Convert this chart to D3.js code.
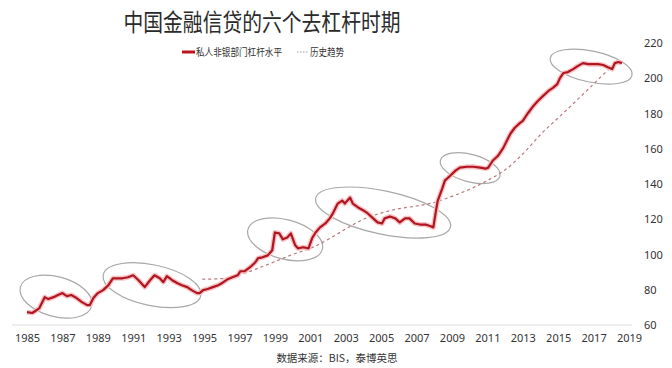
<!DOCTYPE html>
<html>
<head>
<meta charset="utf-8">
<title>中国金融信贷的六个去杠杆时期</title>
<script src="https://d3js.org/d3.v7.min.js"></script>
<style>
  body { margin: 0; background: #fff; }
  text { font-family: "Noto Sans", "Noto Sans CJK SC", sans-serif; fill: #333; }
</style>
</head>
<body>
<svg class="chart" width="672" height="368"></svg>
<script>
// 私人非银部门杠杆水平 (读图估计, 年份为小数)
const lineYears = [1985.0,1985.3,1985.55,1985.7,1986.0,1986.2,1986.5,1986.75,1987.0,1987.25,1987.5,1987.8,
  1988.1,1988.4,1988.55,1988.75,1989.0,1989.3,1989.6,1989.85,1990.1,1990.4,1990.7,1991.0,1991.3,1991.65,1991.95,
  1992.2,1992.5,1992.7,1992.9,1993.2,1993.5,1993.75,1994.05,1994.3,1994.6,1994.75,1994.95,1995.2,1995.5,1995.8,
  1996.05,1996.3,1996.6,1996.9,1997.05,1997.3,1997.6,1997.9,1998.05,1998.3,1998.6,1998.85,1999.0,1999.25,1999.45,
  1999.7,1999.9,2000.15,2000.3,2000.6,2000.9,2001.1,2001.3,2001.55,2001.85,2002.1,2002.3,2002.55,2002.8,2002.95,
  2003.25,2003.4,2003.7,2004.0,2004.25,2004.55,2004.8,2005.05,2005.2,2005.5,2005.8,2006.05,2006.35,2006.6,2006.9,
  2007.2,2007.5,2007.8,2007.95,2008.1,2008.2,2008.45,2008.6,2008.9,2009.2,2009.45,2009.85,2010.2,2010.6,2010.9,
  2011.05,2011.3,2011.6,2011.9,2012.1,2012.3,2012.55,2012.85,2013.0,2013.3,2013.6,2013.85,2014.15,2014.45,2014.7,
  2014.95,2015.1,2015.3,2015.55,2015.85,2016.1,2016.4,2016.7,2016.95,2017.25,2017.55,2017.8,2018.05,2018.2,2018.4,2018.6];
const lineValues = [67.3,66.8,68.5,69.6,75.8,74.7,75.8,77.0,78.1,76.4,77.0,75.3,
  73.0,71.3,71.3,75.3,78.1,79.8,82.6,86.5,86.5,86.5,87.1,88.2,85.4,81.5,85.4,
  88.2,86.5,84.3,87.7,85.4,83.7,82.6,81.5,79.8,78.1,78.1,79.8,80.4,81.5,82.6,
  84.0,85.8,87.1,88.2,90.5,90.5,92.8,95.6,97.9,98.4,99.5,102.4,112.5,112.0,108.6,
  109.7,112.0,105.2,103.5,104.1,103.5,109.2,112.5,115.4,117.6,120.5,123.8,128.9,130.6,128.9,
  132.3,128.9,126.7,125.0,123.3,120.5,118.2,117.6,120.5,121.6,120.5,118.2,120.5,120.5,117.6,
  117.0,117.0,116.0,115.4,125.0,130.6,137.4,141.9,144.7,147.6,149.3,149.8,149.8,149.3,148.7,
  149.3,153.2,156.0,160.5,164.5,168.5,171.9,174.7,175.8,180.3,184.3,187.1,190.0,192.8,194.5,
  196.7,200.1,203.0,203.5,205.2,206.9,208.6,208.0,208.0,208.0,207.5,206.3,205.2,208.6,209.2,208.6];

// 历史趋势
const trendYears = [1994.9,1996,1997,1998,1999,2000,2001,2002,2003,2004,2005,2006,2007,2008,
  2009,2010,2011,2012,2013,2014,2015,2016,2017,2018,2018.35];
const trendValues = [86,86.3,88.3,92,96,100,103.5,108.5,114.5,120,123.5,126,127.5,129.5,
  133,137,142,148,157,168,177.5,187,196.7,206.3,209];

// 六个去杠杆时期 (圈的中心)
const periodYears = [1986.64, 1992.06, 1999.58, 2005.11, 2010.03, 2016.86];
const periodValues = [76.1, 82.6, 108.6, 123.8, 149, 206.6];

const xTicks = d3.range(1985, 2020, 2);
const yTicks = [60, 80, 100, 120, 140, 160, 180, 200, 220];

const svg = d3.select('.chart');

const x = d3.scaleLinear().domain([1985, 2019]).range([27, 629]);
const y = d3.scaleLinear().domain([60, 220]).range([325, 43]);

// 标题
svg.append('text')
  .attr('x', 262).attr('y', 31)
  .attr('text-anchor', 'middle')
  .attr('textLength', 277).attr('lengthAdjust', 'spacingAndGlyphs')
  .style('font-family', '"Noto Sans CJK SC", sans-serif')
  .style('font-size', '24px')
  .style('fill', '#2a2a2a')
  .text('中国金融信贷的六个去杠杆时期');

// 图例
const legend = svg.append('g');
legend.append('line')
  .attr('x1', 182).attr('x2', 195).attr('y1', 52).attr('y2', 52)
  .attr('stroke', '#c0121c').attr('stroke-width', 3);
legend.append('text')
  .attr('x', 196).attr('y', 56)
  .attr('textLength', 86).attr('lengthAdjust', 'spacingAndGlyphs')
  .style('font-family', '"Noto Sans CJK SC", sans-serif')
  .style('font-size', '10px')
  .text('私人非银部门杠杆水平');
legend.append('line')
  .attr('x1', 297).attr('x2', 308).attr('y1', 52).attr('y2', 52)
  .attr('stroke', '#999').attr('stroke-width', 1.2)
  .attr('stroke-dasharray', '1.5,1.5');
legend.append('text')
  .attr('x', 310).attr('y', 56)
  .attr('textLength', 34).attr('lengthAdjust', 'spacingAndGlyphs')
  .style('font-family', '"Noto Sans CJK SC", sans-serif')
  .style('font-size', '10px')
  .text('历史趋势');

// x 轴
const xAxis = svg.append('g')
  .attr('transform', `translate(0,${y(60)})`)
  .call(d3.axisBottom(x).tickValues(xTicks).tickFormat(d3.format('d')).tickSize(0).tickPadding(9));
xAxis.select('.domain').remove();
xAxis.append('line')
  .attr('x1', 12).attr('x2', 632)
  .attr('stroke', '#dcdcdc').attr('stroke-width', 1);
xAxis.selectAll('.tick text')
  .style('font-size', '11px').style('fill', '#333');

// y 轴 (右侧)
const yAxis = svg.append('g')
  .attr('transform', 'translate(644,0)')
  .call(d3.axisRight(y).tickValues(yTicks).tickSize(0).tickPadding(0));
yAxis.select('.domain').remove();
yAxis.selectAll('.tick text')
  .style('font-size', '11px').style('fill', '#333');

// 圈
svg.append('g').selectAll('ellipse')
  .data(periodYears.map((yr, i) => ({ yr, v: periodValues[i], i })))
  .enter().append('ellipse')
  .attr('cx', d => x(d.yr))
  .attr('cy', d => y(d.v))
  .attr('rx', d => [36.9, 49.9, 38.5, 68.9, 30.8, 41.8][d.i])
  .attr('ry', d => [19.9, 20.4, 19.7, 21.6, 13.7, 15.5][d.i])
  .attr('transform', d => `rotate(${[15, 12, 15, 12, 15, 12][d.i]},${x(d.yr)},${y(d.v)})`)
  .attr('fill', 'none')
  .attr('stroke', '#a8a8a8')
  .attr('stroke-width', 1.2);

// 历史趋势线
const trend = trendYears.map((yr, i) => [yr, trendValues[i]]);
svg.append('path')
  .datum(trend)
  .attr('fill', 'none')
  .attr('stroke', '#b87878')
  .attr('stroke-width', 1.2)
  .attr('stroke-dasharray', '3,3')
  .attr('d', d3.line().x(d => x(d[0])).y(d => y(d[1])).curve(d3.curveMonotoneX));

// 杠杆水平线
const lev = lineYears.map((yr, i) => [yr, lineValues[i]]);
const levLine = d3.line().x(d => x(d[0])).y(d => y(d[1]));
svg.append('path')
  .datum(lev)
  .attr('fill', 'none')
  .attr('stroke', '#f6c4c6')
  .attr('stroke-width', 5)
  .attr('stroke-linejoin', 'round')
  .attr('d', levLine);
svg.append('path')
  .datum(lev)
  .attr('fill', 'none')
  .attr('stroke', '#b01520')
  .attr('stroke-width', 2.2)
  .attr('stroke-linejoin', 'round')
  .attr('d', levLine);

// 数据来源
svg.append('text')
  .attr('x', 337).attr('y', 362)
  .attr('text-anchor', 'middle')
  .style('font-family', '"Noto Sans CJK SC", sans-serif')
  .style('font-size', '10.5px')
  .text('数据来源：BIS，泰博英思');
</script>
</body>
</html>
